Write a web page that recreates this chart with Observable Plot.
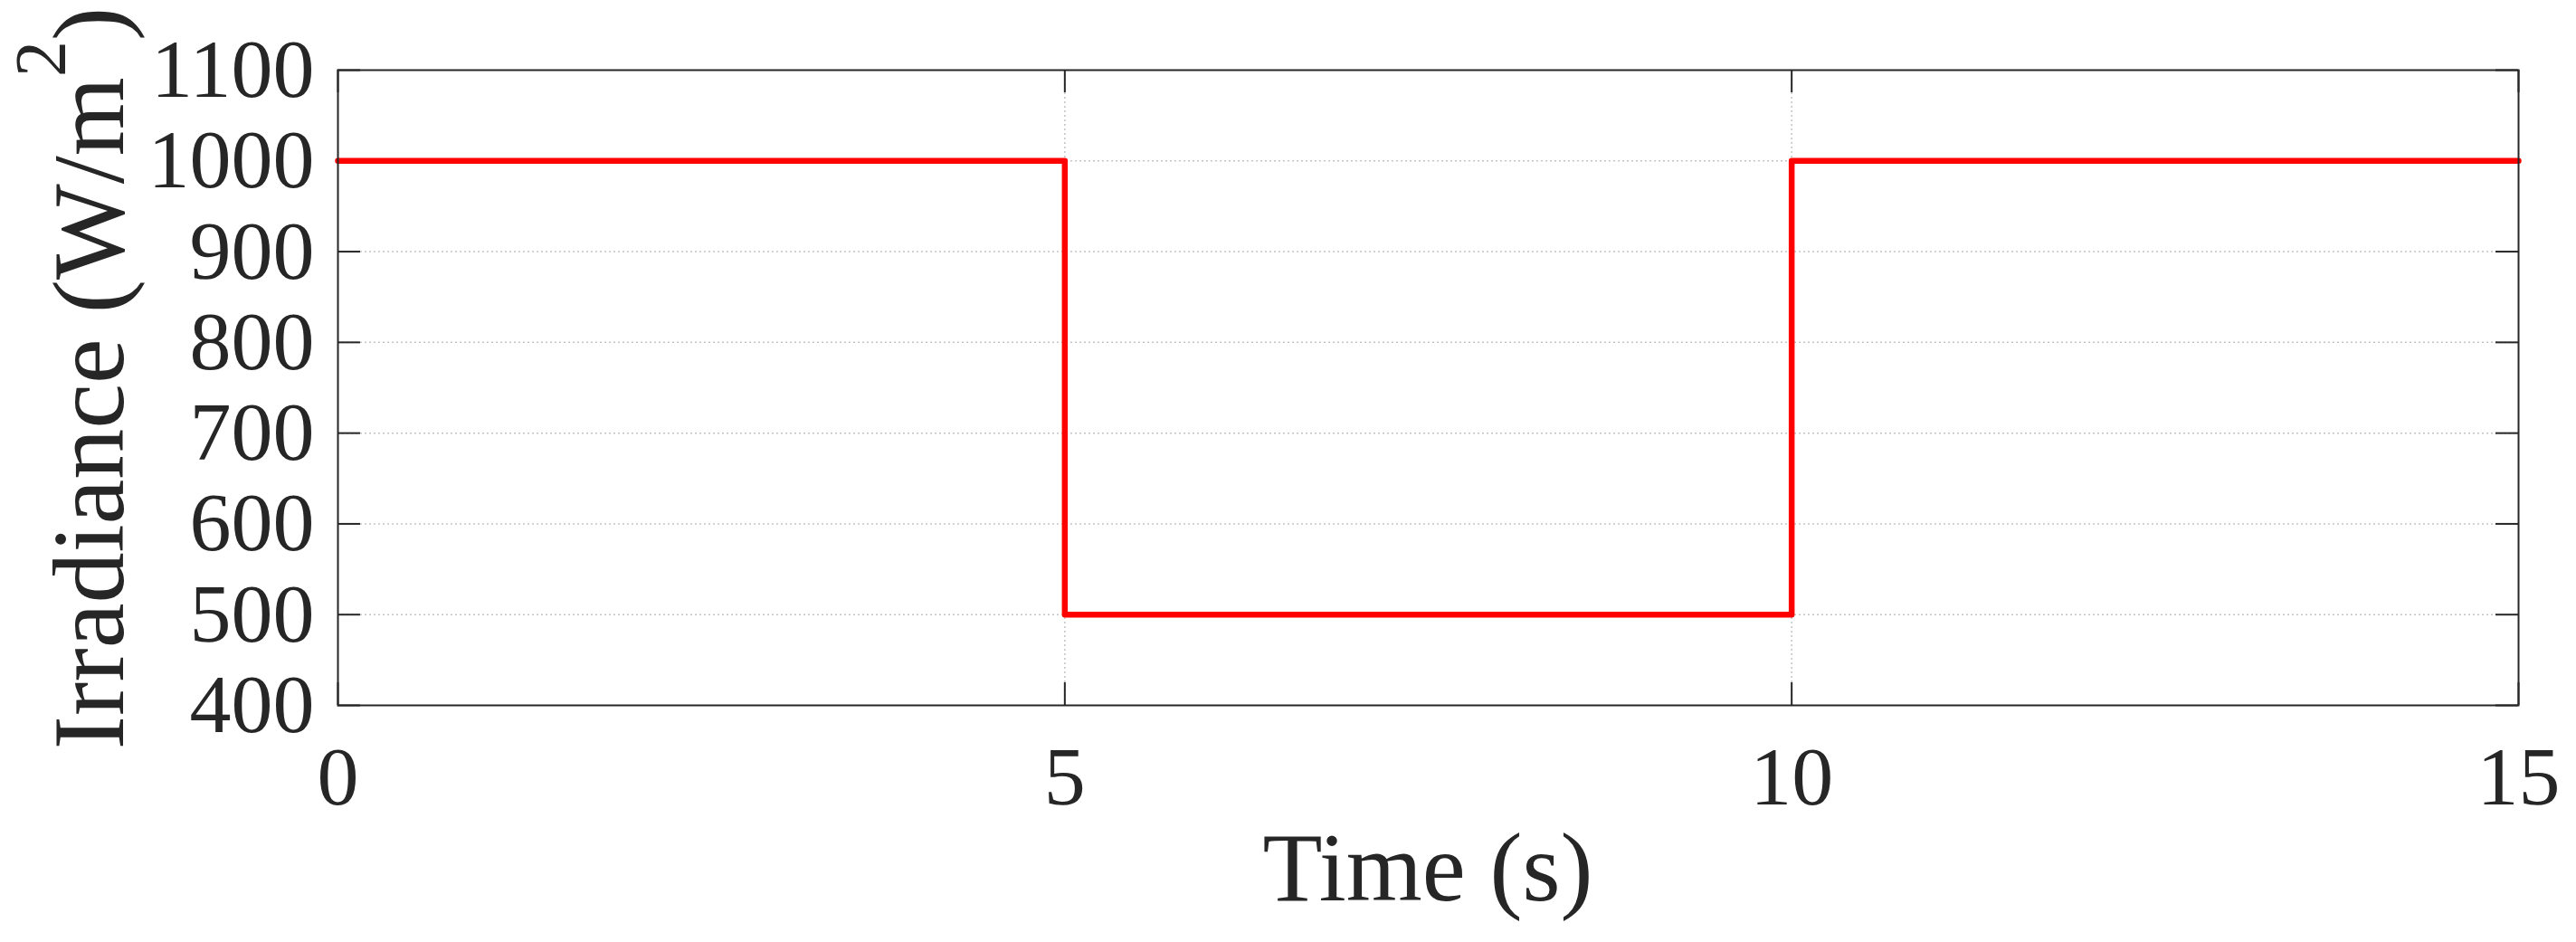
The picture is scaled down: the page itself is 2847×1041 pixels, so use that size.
<!DOCTYPE html>
<html><head><meta charset="utf-8">
<script src="https://cdn.jsdelivr.net/npm/d3@7"></script>
<script src="https://cdn.jsdelivr.net/npm/@observablehq/plot@0.6"></script>
<style>body{margin:0;background:#fff}</style>
</head><body><div id="chart"></div>
<script>
const time = [0, 5, 10, 15];
const irradiance = [1000, 500, 1000, 1000];
const xTicks = [0, 5, 10, 15];
const yTicks = [400, 500, 600, 700, 800, 900, 1000, 1100];
const xLabel = "Time (s)";
const yLabelMain = "Irradiance (W/m";
const yLabelSup = "2";
const yLabelEnd = ")";

const W = 2847, H = 1041, mL = 373, mR = 64, mT = 77, mB = 262;
const innerW = W - mL - mR, innerH = H - mT - mB;
const ink = "#262626";
const data = time.map((t, i) => ({t, g: irradiance[i]}));
const gridStyle = {stroke: "#c4c4c4", strokeOpacity: 1, strokeWidth: 1.5, strokeDasharray: "2,3"};
const fmt = d => String(d);

const chart = Plot.plot({
  width: W, height: H,
  marginLeft: mL, marginRight: mR, marginTop: mT, marginBottom: mB,
  style: {fontFamily: "'Liberation Serif', serif", color: ink, background: "#fff"},
  x: {domain: [0, 15], label: null},
  y: {domain: [400, 1100], label: null},
  marks: [
    Plot.gridX(xTicks.slice(1, -1), gridStyle),
    Plot.gridY(yTicks.slice(1, -1), gridStyle),
    Plot.tickX(xTicks, {x: d => d, stroke: ink, strokeWidth: 2, insetTop: innerH - 25}),
    Plot.tickX(xTicks, {x: d => d, stroke: ink, strokeWidth: 2, insetBottom: innerH - 25}),
    Plot.tickY(yTicks, {y: d => d, stroke: ink, strokeWidth: 2, insetRight: innerW - 25}),
    Plot.tickY(yTicks, {y: d => d, stroke: ink, strokeWidth: 2, insetLeft: innerW - 25}),
    Plot.line(data, {x: "t", y: "g", curve: "step-after", stroke: "#ff0000", strokeWidth: 6.5}),
    Plot.frame({stroke: ink, strokeWidth: 2}),
    Plot.axisX(xTicks, {tickSize: 0, tickPadding: 44, fontSize: 92, fill: ink, tickFormat: fmt}),
    Plot.axisY(yTicks, {tickSize: 0, tickPadding: 26, fontSize: 92, fill: ink, tickFormat: fmt})
  ]
});
document.getElementById("chart").appendChild(chart);

const svg = d3.select(chart);
svg.append("text")
  .attr("x", mL + innerW / 2).attr("y", 995)
  .attr("text-anchor", "middle")
  .attr("font-family", "'Liberation Serif', serif")
  .attr("font-size", 108).attr("fill", ink)
  .text(xLabel);

const yt = svg.append("text")
  .attr("transform", `translate(136, ${mT + innerH / 2 - 10}) rotate(-90)`)
  .attr("text-anchor", "middle")
  .attr("font-family", "'Liberation Serif', serif")
  .attr("font-size", 112).attr("fill", ink);
yt.append("tspan").text(yLabelMain);
yt.append("tspan").attr("dy", -64).attr("font-size", 80).text(yLabelSup);
yt.append("tspan").attr("dy", 64).text(yLabelEnd);
</script>
</body></html>
